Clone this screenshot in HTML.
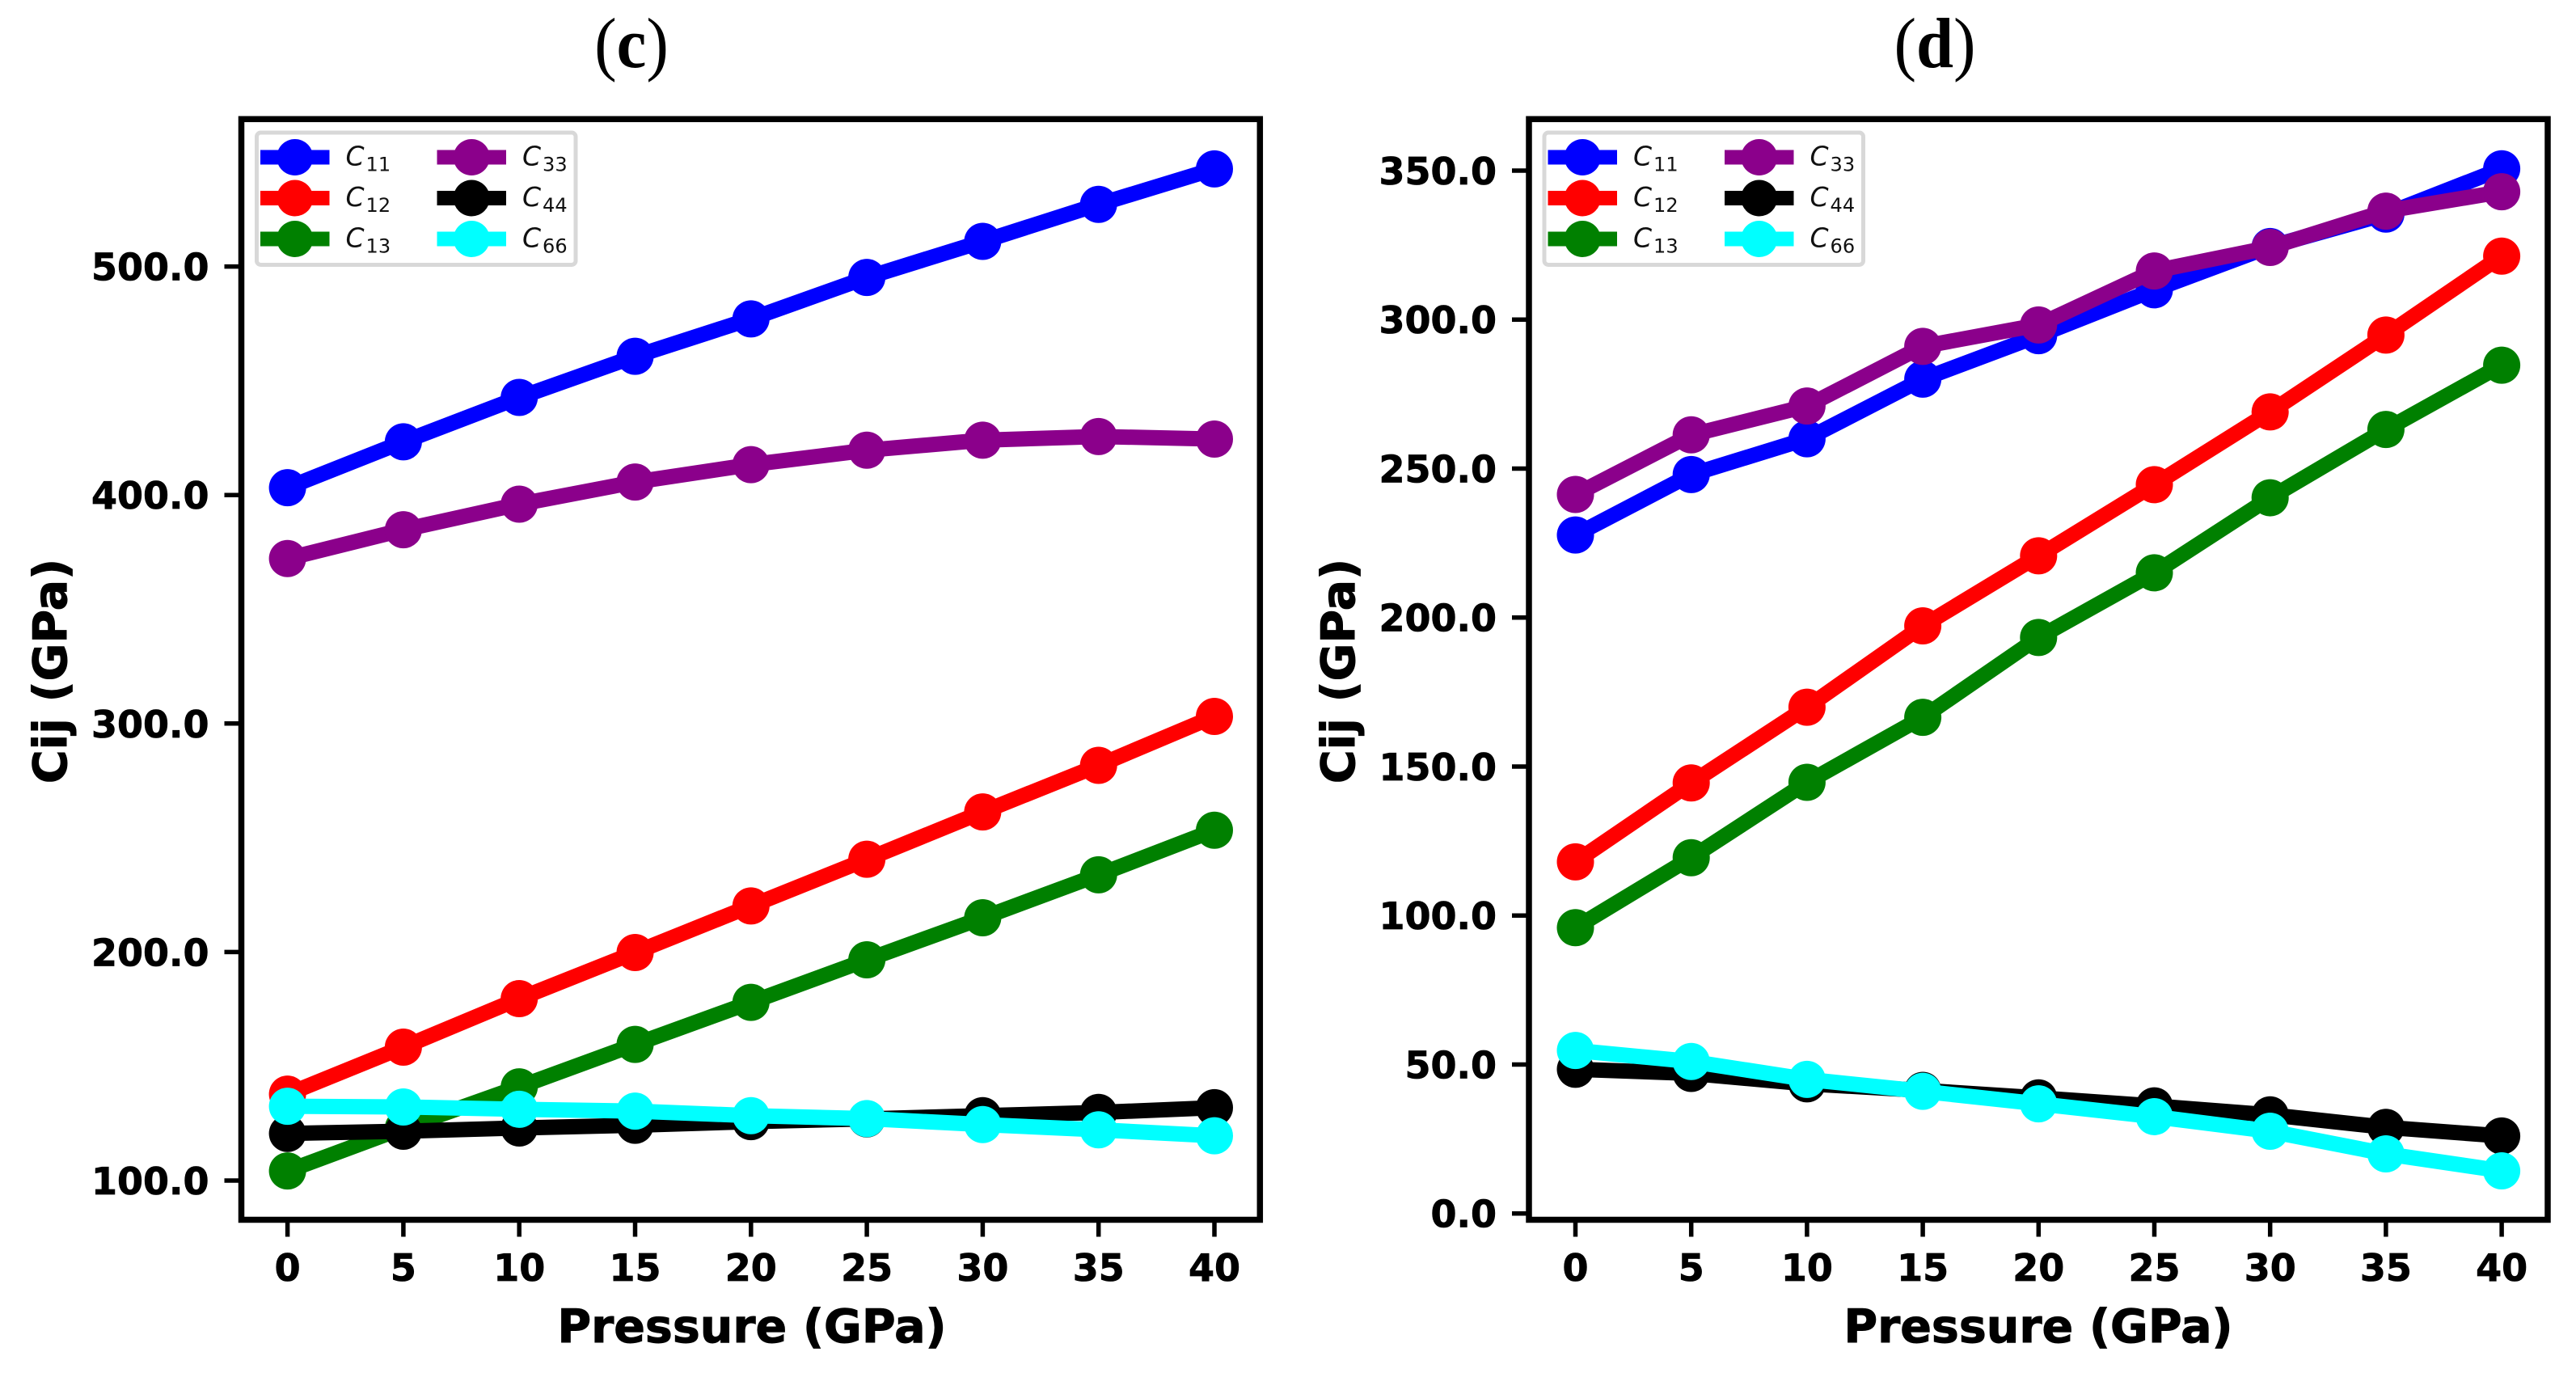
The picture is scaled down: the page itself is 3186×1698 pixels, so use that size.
<!DOCTYPE html>
<html lang="en">
<head>
<meta charset="utf-8">
<title>Elastic constants vs pressure</title>
<style>
html,body{margin:0;padding:0;background:#fff;}
svg{display:block;}
text{font-family:"DejaVu Sans","Liberation Sans",sans-serif;fill:#000;}
.title{font-family:"Liberation Serif",serif;font-size:88px;}
.tick{font-size:46px;font-weight:bold;stroke:#000;stroke-width:0.8px;}
.axis{font-size:57px;font-weight:bold;stroke:#000;stroke-width:1px;}
.leg{font-size:33px;font-style:italic;fill:#111;}
</style>
</head>
<body>
<svg id="figure" xmlns="http://www.w3.org/2000/svg" width="3186" height="1698" viewBox="0 0 3186 1698">
  <rect width="3186" height="1698" fill="#fff"/>
  <text class="title" transform="translate(781,83) scale(0.94,1)" text-anchor="middle">(<tspan font-weight="bold">c</tspan>)</text>
  <text class="title" transform="translate(2393,83) scale(0.94,1)" text-anchor="middle">(<tspan font-weight="bold">d</tspan>)</text>
  <text class="axis" x="930" y="1660" text-anchor="middle">Pressure (GPa)</text>
  <text class="axis" x="2521" y="1660" text-anchor="middle">Pressure (GPa)</text>
  <text class="axis" transform="translate(82,830) rotate(-90)" text-anchor="middle">Cij (GPa)</text>
  <text class="axis" transform="translate(1675,830) rotate(-90)" text-anchor="middle">Cij (GPa)</text>
  <g id="panel-c"></g>
  <g id="panel-d"></g>
</svg>
<script>
// Shared categories
const pressure = [0, 5, 10, 15, 20, 25, 30, 35, 40];

// Panel (c) values in GPa
const c11C = [403.2, 423.3, 442.7, 460.7, 477.1, 495.2, 511, 527.2, 542.7];
const c12C = [137.8, 158.4, 179.6, 199.8, 220.2, 240.6, 261.3, 281.7, 303.1];
const c13C = [104.2, 123, 141, 159.6, 178, 196.6, 215, 233.8, 253.3];
const c33C = [372.2, 384.8, 396, 405.7, 413.3, 419.6, 424, 425.6, 424.5];
const c44C = [120.6, 121.6, 123, 124.2, 125.8, 127, 128.4, 129.8, 131.9];
const c66C = [132.5, 132.2, 131.2, 130.4, 128.4, 127.1, 124.5, 122.2, 119.6];
const yTickLabelsC = [100, 200, 300, 400, 500];

// Panel (d) values in GPa
const c11D = [227.7, 248, 260, 280, 294.6, 310, 324.5, 335.4, 350.6];
const c12D = [118, 144.5, 169.9, 197.2, 220.7, 244.6, 269, 294.8, 321.3];
const c13D = [95.9, 119.4, 144.7, 166.5, 193.3, 215, 240.2, 263.1, 284.7];
const c33D = [241.3, 261.3, 271, 291, 298.2, 316.3, 324.2, 336.4, 342.9];
const c44D = [48.4, 47, 43.5, 41.3, 38.8, 36.1, 33.1, 28.9, 26];
const c66D = [54.7, 51, 45, 41, 36.8, 32.5, 27.6, 20, 14.3];
const yTickLabelsD = [0, 50, 100, 150, 200, 250, 300, 350];

const NS = 'http://www.w3.org/2000/svg';

function make(parent, tag, attrs) {
  const el = document.createElementNS(NS, tag);
  for (const k in attrs) el.setAttribute(k, attrs[k]);
  parent.appendChild(el);
  return el;
}

function seriesMeta(c11, c12, c13, c33, c44, c66) {
  return [
    { key: 'c11', sub: '11', color: '#0000ff', values: c11 },
    { key: 'c12', sub: '12', color: '#ff0000', values: c12 },
    { key: 'c13', sub: '13', color: '#008000', values: c13 },
    { key: 'c33', sub: '33', color: '#8b008b', values: c33 },
    { key: 'c44', sub: '44', color: '#000000', values: c44 },
    { key: 'c66', sub: '66', color: '#00ffff', values: c66 }
  ];
}

function drawPanel(cfg) {
  const root = document.getElementById(cfg.id);
  const xScale = function (p) { return cfg.x0 + (p - pressure[0]) * cfg.xPerUnit; };
  const yScale = function (v) { return cfg.yRef - (v - cfg.vRef) * cfg.yPerUnit; };

  // x ticks
  pressure.forEach(function (p) {
    const tick = make(root, 'line', { x1: xScale(p), x2: xScale(p), y1: cfg.bottom, y2: cfg.bottom + 21, stroke: '#000', 'stroke-width': 5.5 });
    
    
    const label = make(root, 'text', { class: 'tick', x: xScale(p), y: 1584, 'text-anchor': 'middle' });
    
    
    label.textContent = String(p);
  });

  // y ticks
  cfg.yTicks.forEach(function (v) {
    const tick = make(root, 'line', { x1: cfg.left - 21, x2: cfg.left, y1: yScale(v), y2: yScale(v), stroke: '#000', 'stroke-width': 5.5 });
    
    
    const label = make(root, 'text', { class: 'tick', x: cfg.left - 40, y: yScale(v) + 17, 'text-anchor': 'end' });
    
    
    label.textContent = v.toFixed(1);
  });

  // series
  cfg.series.forEach(function (s) {
    const group = make(root, 'g', {});
    
    
    const pts = s.values.map(function (v, i) { return xScale(pressure[i]) + ',' + yScale(v); }).join(' ');
    const line = make(group, 'polyline', { points: pts, fill: 'none', stroke: s.color, 'stroke-width': 19, 'stroke-linejoin': 'round' });
    
    
    s.values.forEach(function (v, i) {
      const pt = make(group, 'circle', { cx: xScale(pressure[i]), cy: yScale(v), r: 23, fill: s.color });
      
      
    });
  });

  // frame
  const frame = make(root, 'rect', { x: cfg.left, y: cfg.top, width: cfg.right - cfg.left, height: cfg.bottom - cfg.top, fill: 'none', stroke: '#000', 'stroke-width': 7.5, 'stroke-linejoin': 'miter' });
  
  

  // legend
  const legend = make(root, 'g', {});
  
  
  const lx = cfg.left + 19;
  const box = make(legend, 'rect', { x: lx, y: 164, width: 394.5, height: 163.5, rx: 5, fill: '#fff', stroke: '#d8d8d8', 'stroke-width': 5 });
  
  
  cfg.series.forEach(function (s, i) {
    const col = i < 3 ? 0 : 1;
    const row = i % 3;
    const hx = lx + 4.5 + col * 218.5;
    const hy = 194.5 + row * 50.5;
    const entry = make(legend, 'g', {});
    
    
    make(entry, 'line', { x1: hx, x2: hx + 85.5, y1: hy, y2: hy, stroke: s.color, 'stroke-width': 18 });
    make(entry, 'circle', { cx: hx + 42.75, cy: hy, r: 22.5, fill: s.color });
    const txt = make(entry, 'text', { class: 'leg', x: hx + 105.5, y: hy + 10 });
    txt.textContent = 'C';
    const sub = make(txt, 'tspan', { dx: 2, dy: 7, 'font-size': 24, 'font-style': 'normal' });
    sub.textContent = s.sub;
  });
}

drawPanel({
  id: 'panel-c', left: 298.5, right: 1558.3, top: 147.3, bottom: 1508.5,
  x0: 355.6, xPerUnit: 28.66, yRef: 1460, vRef: 100, yPerUnit: 2.826,
  yTicks: yTickLabelsC, series: seriesMeta(c11C, c12C, c13C, c33C, c44C, c66C)
});
drawPanel({
  id: 'panel-d', left: 1891, right: 3151, top: 147.3, bottom: 1508.5,
  x0: 1948.5, xPerUnit: 28.64, yRef: 1500.7, vRef: 0, yPerUnit: 3.685,
  yTicks: yTickLabelsD, series: seriesMeta(c11D, c12D, c13D, c33D, c44D, c66D)
});
</script>
</body>
</html>
